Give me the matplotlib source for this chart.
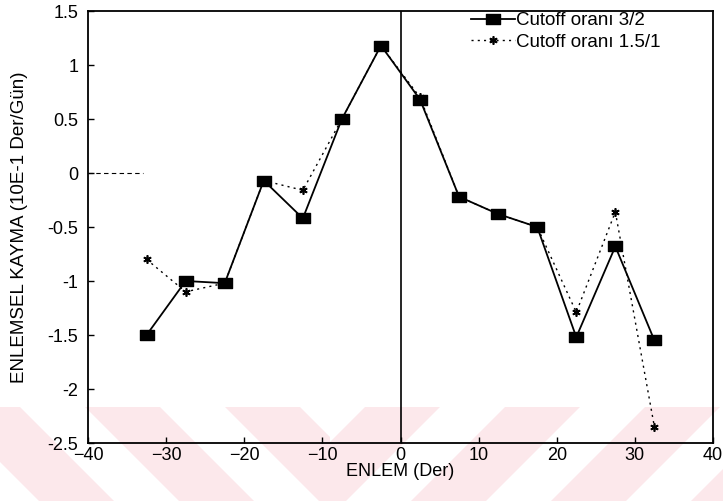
import matplotlib
matplotlib.use("Agg")
import matplotlib.pyplot as plt
from matplotlib.patches import Polygon, Rectangle
from matplotlib.path import Path

plt.rcParams['font.family'] = ['Liberation Sans', 'DejaVu Sans']

latitude = [-32.5, -27.5, -22.5, -17.5, -12.5, -7.5, -2.5, 2.5, 7.5, 12.5, 17.5, 22.5, 27.5, 32.5]
drift_32 = [-1.50, -1.00, -1.02, -0.07, -0.42, 0.50, 1.18, 0.68, -0.22, -0.38, -0.50, -1.52, -0.68, -1.55]
drift_15 = [-0.80, -1.10, -1.02, -0.07, -0.16, 0.50, 1.18, 0.70, -0.22, -0.38, -0.50, -1.29, -0.36, -2.35]
label_32 = "Cutoff oranı 3/2"
label_15 = "Cutoff oranı 1.5/1"
xticks = [-40, -30, -20, -10, 0, 10, 20, 30, 40]
yticks = [-2.5, -2, -1.5, -1, -0.5, 0, 0.5, 1, 1.5]
ytick_labels = ["-2.5", "-2", "-1.5", "-1", "-0.5", "0", "0.5", "1", "1.5"]

W, H = 723, 501
fig = plt.figure(figsize=(W / 100, H / 100), dpi=100)

# background layer in pixel coordinates: pink watermark band with white diagonal stripes
bg = fig.add_axes([0, 0, 1, 1], zorder=-5)
bg.set_xlim(0, W)
bg.set_ylim(H, 0)
bg.axis('off')
band_top = 407
bg.add_patch(Rectangle((0, band_top), W, H - band_top, facecolor='#fce8eb', edgecolor='none'))
hb = H - band_top
left_clip = Rectangle((0, band_top), 330, hb, transform=bg.transData)
right_clip = Rectangle((330, band_top), W - 330, hb, transform=bg.transData)
for x0 in range(-260, 400, 140):
    p = Polygon([(x0, band_top), (x0 + 65, band_top), (x0 + 65 + hb, H), (x0 + hb, H)],
                closed=True, facecolor='white', edgecolor='none')
    bg.add_patch(p)
    p.set_clip_path(left_clip)
for x0 in range(300, 1000, 140):
    p = Polygon([(x0, band_top), (x0 + 65, band_top), (x0 + 65 - hb, H), (x0 - hb, H)],
                closed=True, facecolor='white', edgecolor='none')
    bg.add_patch(p)
    p.set_clip_path(right_clip)

ax = fig.add_axes([88 / W, 1 - 443 / H, 625 / W, 432 / H])
ax.patch.set_alpha(0)

rect_marker = Path([(-1.3, -1), (1.3, -1), (1.3, 1), (-1.3, 1), (-1.3, -1)],
                   [Path.MOVETO, Path.LINETO, Path.LINETO, Path.LINETO, Path.CLOSEPOLY])

ax.plot(latitude, drift_15, linestyle=(0, (1.5, 3)), color='black', linewidth=1.0,
        marker=(6, 2, 0), markersize=6, markeredgewidth=1.2, label=label_15, zorder=2)
ax.plot(latitude, drift_32, linestyle='-', color='black', linewidth=1.3,
        marker=rect_marker, markersize=10, label=label_32, zorder=3)

ax.axvline(0, color='black', linewidth=1.2)
ax.plot([-40, -33], [0, 0], linestyle=(0, (4, 3)), color='black', linewidth=0.8)

ax.set_xlim(-40, 40)
ax.set_ylim(-2.5, 1.5)
ax.set_xticks(xticks)
ax.set_yticks(yticks)
ax.set_yticklabels(ytick_labels)
ax.tick_params(direction='in', length=4, labelsize=13, width=1)
ax.tick_params(axis='x', pad=3)
ax.tick_params(axis='y', pad=7)
for s in ax.spines.values():
    s.set_linewidth(1.3)

ax.set_xlabel("ENLEM (Der)", fontsize=13, labelpad=-1)
ax.set_ylabel("ENLEMSEL KAYMA (10E-1 Der/Gün)", fontsize=13.5, labelpad=14)

handles, labels = ax.get_legend_handles_labels()
ax.legend(handles[::-1], labels[::-1], loc='upper left', bbox_to_anchor=(0.612, 1.0),
          frameon=False, fontsize=13.5, handlelength=2.3, handletextpad=0.1,
          borderaxespad=0, borderpad=0.05, labelspacing=0.25)

fig.savefig("out.png", dpi=100)
